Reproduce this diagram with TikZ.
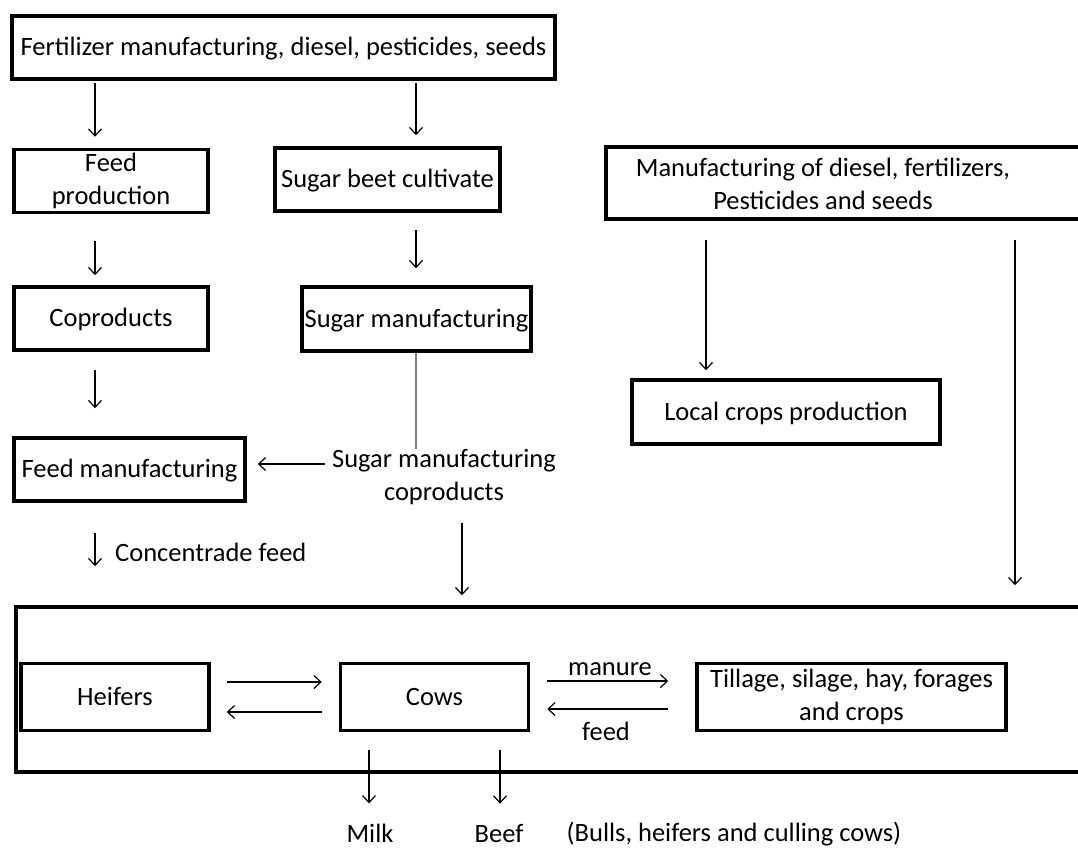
\documentclass[tikz,border=0pt]{standalone}
\usepackage{fontspec}
\setmainfont{Carlito}
\usetikzlibrary{arrows.meta,calc}
\begin{document}
\begin{tikzpicture}[x=1pt,y=-1pt,
  box/.style={draw, line width=3.5pt, inner sep=0pt, align=center, font=\fontsize{26.5}{33}\selectfont},
  one/.style={text height=17pt, text depth=1pt},
  txt/.style={inner sep=0pt, align=center, font=\fontsize{26.5}{33}\selectfont},
  arr/.style={line width=1.2pt, -{Straight Barb[length=7pt,width=13pt,line width=1.2pt]}},
]
\useasboundingbox (0,0) rectangle (1078,847);
\fill[white] (0,0) rectangle (1078,847);
% boxes
\node[box, one, minimum width=543, minimum height=63] (top) at (283.5,47.5) {Fertilizer manufacturing, diesel, pesticides, seeds};
\node[box, minimum width=194, minimum height=63] (feedprod) at (111,181) {Feed\\production};
\node[box, one, minimum width=225, minimum height=63] (beet) at (387.5,179.5) {Sugar beet cultivate};
\node[box, minimum width=520, minimum height=72, anchor=west] (mfg) at (604,183) {};
\node[txt] (mfgtext) at (823,184) {Manufacturing of diesel, fertilizers,\\Pesticides and seeds};
\node[box, one, minimum width=194, minimum height=63] (coprod) at (111,318.5) {Coproducts};
\node[box, one, minimum width=229, minimum height=64] (sugman) at (416.5,319) {Sugar manufacturing};
\node[box, one, minimum width=308, minimum height=64] (local) at (786,412) {Local crops production};
\node[box, one, minimum width=231, minimum height=63] (feedman) at (129.5,469.5) {Feed manufacturing};
\node[txt] (smc) at (444,477) {Sugar manufacturing\\coproducts};
\node[txt, one, anchor=west] (conc) at (115,553) {Concentrade feed};
\node[box, minimum width=1100, minimum height=165, anchor=west] (big) at (14,689.5) {};
\node[box, one, minimum width=188, minimum height=67] (heifers) at (115,697) {Heifers};
\node[box, one, minimum width=188, minimum height=67] (cows) at (434.5,697) {Cows};
\node[box, minimum width=309, minimum height=67] (tillage) at (851.5,697) {Tillage, silage, hay, forages\\and crops};
\node[txt, anchor=base] (manure) at (610,675) {manure};
\node[txt, anchor=base] (feed) at (606,740) {feed};
\node[txt, anchor=base] (milk) at (370,842) {Milk};
\node[txt, anchor=base] (beef) at (499,842) {Beef};
\node[txt, anchor=base] (bulls) at (734,841) {(Bulls, heifers and culling cows)};
% connectors
\draw[arr, shorten <=2pt, shorten >=11pt] (top.south -| 95,0) -- (feedprod.north -| 95,0);
\draw[arr, shorten <=2pt, shorten >=11pt] (top.south -| 416,0) -- (beet.north -| 416,0);
\draw[arr, shorten <=27pt, shorten >=10pt] (feedprod.south -| 95,0) -- (coprod.north -| 95,0);
\draw[arr, shorten <=17pt, shorten >=17pt] (beet.south -| 416,0) -- (sugman.north -| 416,0);
\draw[arr, shorten <=19pt, shorten >=8pt] (mfg.south -| 706,0) -- (local.north -| 706,0);
\draw[arr, shorten <=19pt, shorten >=20pt] (mfg.south -| 1015,0) -- (big.north -| 1015,0);
\draw[arr, shorten <=18pt, shorten >=28pt] (coprod.south -| 95,0) -- (feedman.north -| 95,0);
\draw[line width=1.2pt, gray] (sugman.south -| 416,0) -- (smc.north -| 416,0);
\draw[arr, shorten <=7pt, shorten >=11pt] (smc.west |- 0,464) -- (feedman.east |- 0,464);
\draw[arr, shorten <=30pt, shorten >=39pt] (feedman.south -| 95,0) -- (big.north -| 95,0);
\draw[arr, shorten <=18pt, shorten >=10pt] (smc.south -| 462,0) -- (big.north -| 462,0);
\draw[arr, shorten <=16pt, shorten >=17pt] (heifers.east |- 0,682) -- (cows.west |- 0,682);
\draw[arr, shorten <=17pt, shorten >=16pt] (cows.west |- 0,712) -- (heifers.east |- 0,712);
\draw[arr, shorten <=17pt, shorten >=27pt] (cows.east |- 0,681) -- (tillage.west |- 0,681);
\draw[arr, shorten <=27pt, shorten >=17pt] (tillage.west |- 0,709) -- (cows.east |- 0,709);
\draw[arr, shorten <=18pt, shorten >=20pt] (cows.south -| 369,0) -- (milk.north -| 369,0);
\draw[arr, shorten <=18pt, shorten >=20pt] (cows.south -| 500,0) -- (beef.north -| 500,0);
\end{tikzpicture}
\end{document}
